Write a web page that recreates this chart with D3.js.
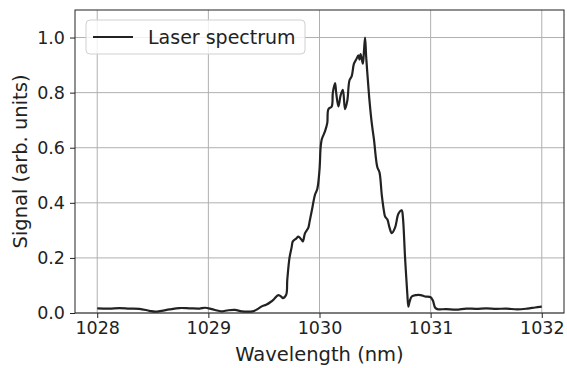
<!DOCTYPE html>
<html>
<head>
<meta charset="utf-8">
<script src="https://cdn.jsdelivr.net/npm/d3@7"></script>
<style>
  html, body { margin: 0; padding: 0; background: #fff; }
  svg { display: block; }
  text { font-family: "DejaVu Sans", sans-serif; }
</style>
</head>
<body>
<svg id="chart" width="567" height="368"></svg>
<script>
// Measured laser spectrum: wavelength (nm) and normalised signal
const wavelength = [
  1028.00, 1028.11, 1028.20, 1028.29, 1028.38, 1028.47, 1028.52, 1028.58, 1028.65, 1028.74,
  1028.83, 1028.92, 1028.97, 1029.03, 1029.09, 1029.12, 1029.18, 1029.24, 1029.30, 1029.38,
  1029.41, 1029.45, 1029.48, 1029.52, 1029.56, 1029.59, 1029.63, 1029.66, 1029.67, 1029.70,
  1029.71, 1029.73, 1029.75, 1029.76, 1029.79, 1029.81, 1029.84, 1029.85, 1029.87, 1029.90,
  1029.91, 1029.93, 1029.96, 1029.98, 1030.00, 1030.01, 1030.02, 1030.05, 1030.07, 1030.08,
  1030.11, 1030.12, 1030.14, 1030.15, 1030.17, 1030.19, 1030.21, 1030.23, 1030.25, 1030.27,
  1030.29, 1030.31, 1030.33, 1030.35, 1030.36, 1030.37, 1030.39, 1030.40, 1030.41, 1030.42,
  1030.44, 1030.45, 1030.47, 1030.49, 1030.52, 1030.54, 1030.56, 1030.58, 1030.59, 1030.61,
  1030.63, 1030.65, 1030.68, 1030.71, 1030.74, 1030.75, 1030.77, 1030.79, 1030.80, 1030.81,
  1030.83, 1030.87, 1030.91, 1030.95, 1031.00, 1031.02, 1031.04, 1031.06, 1031.14, 1031.23,
  1031.32, 1031.41, 1031.50, 1031.59, 1031.68, 1031.78, 1031.87, 1031.94, 1032.00
];
const signal = [
  0.017, 0.016, 0.018, 0.016, 0.015, 0.008, 0.005, 0.008, 0.013, 0.018,
  0.017, 0.016, 0.019, 0.014, 0.008, 0.006, 0.010, 0.011, 0.006, 0.005,
  0.007, 0.016, 0.024, 0.030, 0.040, 0.050, 0.065, 0.058, 0.054, 0.066,
  0.120, 0.200, 0.240, 0.260, 0.270, 0.277, 0.265, 0.260, 0.290, 0.310,
  0.330, 0.370, 0.430, 0.450, 0.520, 0.600, 0.630, 0.660, 0.690, 0.740,
  0.750, 0.800, 0.835, 0.800, 0.750, 0.790, 0.810, 0.740, 0.770, 0.845,
  0.860, 0.905, 0.920, 0.935, 0.920, 0.940, 0.905, 0.950, 1.000, 0.930,
  0.820, 0.770, 0.690, 0.630, 0.530, 0.510, 0.430, 0.370, 0.350, 0.340,
  0.310, 0.290, 0.310, 0.360, 0.373, 0.350, 0.200, 0.070, 0.023, 0.040,
  0.060, 0.065, 0.065, 0.060, 0.057, 0.045, 0.020, 0.014, 0.014, 0.012,
  0.016, 0.015, 0.017, 0.015, 0.016, 0.013, 0.016, 0.020, 0.023
];
const xTicks = [1028, 1029, 1030, 1031, 1032];
const yTicks = [0.0, 0.2, 0.4, 0.6, 0.8, 1.0];
const seriesName = "Laser spectrum";
const xTitle = "Wavelength (nm)";
const yTitle = "Signal (arb. units)";

const points = wavelength.map((w, i) => ({ w, s: signal[i] }));

const svg = d3.select("#chart");
const margin = { left: 75, right: 3, top: 10, bottom: 55 };
const W = 567, H = 368;
const innerW = W - margin.left - margin.right;
const innerH = H - margin.top - margin.bottom;

// 5% padding on the wavelength axis, signal axis starts at zero
const xMin = d3.min(wavelength), xMax = d3.max(wavelength);
const pad = (xMax - xMin) * 0.05;
const x = d3.scaleLinear().domain([xMin - pad, xMax + pad]).range([0, innerW]);
const y = d3.scaleLinear().domain([0, 1.1]).range([innerH, 0]);

const g = svg.append("g").attr("transform", `translate(${margin.left},${margin.top})`);

// grid
g.append("g").selectAll("line").data(xTicks).join("line")
  .attr("x1", d => x(d)).attr("x2", d => x(d))
  .attr("y1", 0).attr("y2", innerH)
  .attr("stroke", "#b0b0b0").attr("stroke-width", 1);
g.append("g").selectAll("line").data(yTicks).join("line")
  .attr("x1", 0).attr("x2", innerW)
  .attr("y1", d => y(d)).attr("y2", d => y(d))
  .attr("stroke", "#b0b0b0").attr("stroke-width", 1);

// spectrum line
const line = d3.line().x(d => x(d.w)).y(d => y(d.s)).curve(d3.curveCatmullRom.alpha(0.5));
g.append("path").datum(points)
  .attr("d", line)
  .attr("fill", "none")
  .attr("stroke", "#222222")
  .attr("stroke-width", 2.2)
  .attr("stroke-linejoin", "round");

// axes
const xAxis = d3.axisBottom(x).tickValues(xTicks).tickFormat(d3.format("d")).tickSizeOuter(0).tickSize(5).tickPadding(4);
const yAxis = d3.axisLeft(y).tickValues(yTicks).tickFormat(d3.format(".1f")).tickSizeOuter(0).tickSize(5).tickPadding(5);

const gx = g.append("g").attr("transform", `translate(0,${innerH})`).call(xAxis);
const gy = g.append("g").call(yAxis);
[gx, gy].forEach(a => {
  a.select(".domain").remove();
  a.selectAll(".tick line").attr("stroke", "#222").attr("stroke-width", 1);
  a.selectAll(".tick text").attr("fill", "#222").style("font-size", "17.5px")
    .style("font-family", "'DejaVu Sans', sans-serif");
});

// frame
g.append("rect").attr("x", 0).attr("y", 0).attr("width", innerW).attr("height", innerH)
  .attr("fill", "none").attr("stroke", "#222").attr("stroke-width", 1);

// axis titles
svg.append("text")
  .attr("x", margin.left + innerW / 2).attr("y", 361)
  .attr("text-anchor", "middle").attr("fill", "#222")
  .style("font-size", "19.5px").text(xTitle);
svg.append("text")
  .attr("transform", `translate(27,${margin.top + innerH / 2}) rotate(-90)`)
  .attr("text-anchor", "middle").attr("fill", "#222")
  .style("font-size", "19.5px").text(yTitle);

// legend
const leg = g.append("g").attr("transform", "translate(11,10)");
leg.append("rect").attr("width", 219).attr("height", 34).attr("rx", 4)
  .attr("fill", "rgba(255,255,255,0.8)").attr("stroke", "#d0d0d0").attr("stroke-width", 1);
leg.append("line").attr("x1", 7).attr("x2", 47).attr("y1", 17).attr("y2", 17)
  .attr("stroke", "#222").attr("stroke-width", 2.2);
leg.append("text").attr("x", 62).attr("y", 24).attr("fill", "#222")
  .style("font-size", "19px").text(seriesName);
</script>
</body>
</html>
